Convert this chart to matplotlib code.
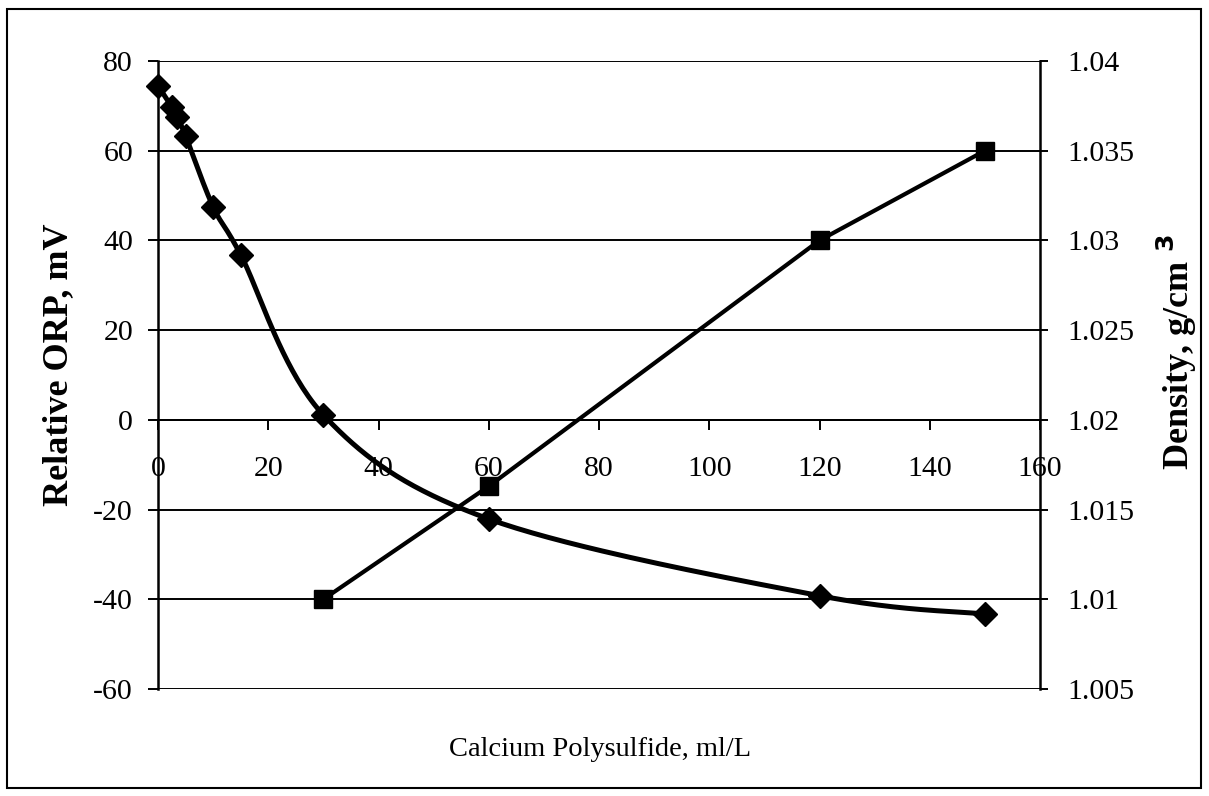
import matplotlib.pyplot as plt
import numpy as np
from matplotlib.patches import Rectangle

plt.rcParams["font.family"] = ["Liberation Serif", "DejaVu Serif"]

# data
orp_dose = [0, 2.5, 3.5, 5, 10, 15, 30, 60, 120, 150]
orp_mv = [74.5, 69.8, 67.5, 63.3, 47.5, 36.8, 1.1, -22.1, -39.2, -43.3]
density_dose = [30, 60, 120, 150]
density = [1.010, 1.0163, 1.030, 1.035]

x_ticks = [0, 20, 40, 60, 80, 100, 120, 140, 160]
orp_ticks = [-60, -40, -20, 0, 20, 40, 60, 80]
density_ticks = [1.005, 1.01, 1.015, 1.02, 1.025, 1.03, 1.035, 1.04]
density_labels = ["1.005", "1.01", "1.015", "1.02", "1.025", "1.03", "1.035", "1.04"]

W, H = 1209, 796


def smooth_line(xs, ys, sx, sy, n=40):
    # Excel-like smoothed line: cubic Bezier segments with Catmull-Rom control points,
    # computed in screen-scaled coordinates
    p = np.column_stack([np.asarray(xs) * sx, np.asarray(ys) * sy])
    p = np.vstack([p[0], p, p[-1]])
    t = np.linspace(0, 1, n)[:, None]
    out = []
    for i in range(1, len(p) - 2):
        p0, p1, p2, p3 = p[i - 1], p[i], p[i + 1], p[i + 2]
        c1 = p1 + (p2 - p0) / 6
        c2 = p2 - (p3 - p1) / 6
        seg = (1 - t) ** 3 * p1 + 3 * (1 - t) ** 2 * t * c1 + 3 * (1 - t) * t ** 2 * c2 + t ** 3 * p2
        out.append(seg)
    out = np.vstack(out)
    return out[:, 0] / sx, out[:, 1] / sy


fig = plt.figure(figsize=(W / 100, H / 100), dpi=100)
ax = fig.add_axes([158 / W, 1 - 689 / H, (1040 - 158) / W, (689 - 61) / H])
ax2 = ax.twinx()

ax.set_xlim(0, 160)
ax.set_ylim(-60, 80)
ax2.set_ylim(1.005, 1.04)

ax.set_yticks(orp_ticks)
ax.set_yticklabels([str(v) for v in orp_ticks])
ax.set_xticks(x_ticks)
ax2.set_yticks(density_ticks)
ax2.set_yticklabels(density_labels)

ax.grid(True, axis="y", color="black", linewidth=1.4)
ax.set_axisbelow(True)

for s in ["top", "right"]:
    ax.spines[s].set_visible(False)
for s in ["top", "left", "bottom"]:
    ax2.spines[s].set_visible(False)
ax.spines["bottom"].set_position(("data", 0))
ax.spines["bottom"].set_linewidth(1.4)
ax.spines["left"].set_linewidth(1.8)
ax2.spines["right"].set_linewidth(1.8)

ax.tick_params(axis="y", direction="out", length=7, width=1.4, pad=11, labelsize=21.5)
ax.tick_params(axis="x", direction="out", length=7, width=1.4, pad=19, labelsize=21.5)
ax2.tick_params(axis="y", direction="out", length=6, width=1.4, pad=14, labelsize=21.5)

sx = 882 / 160
sy = 628 / 140
cx, cy = smooth_line(orp_dose, orp_mv, sx, sy)
ax.plot(cx, cy, color="black", linewidth=3.6, solid_capstyle="round", zorder=3, clip_on=False)
ax.plot(orp_dose, orp_mv, linestyle="none", marker="D", markersize=12, color="black", zorder=4, clip_on=False)

ax2.plot(density_dose, density, color="black", linewidth=3, marker="s", markersize=13, zorder=4)

fig.text(600 / W, 1 - 750 / H, "Calcium Polysulfide, ml/L", fontsize=20.5, ha="center", va="center")
fig.text(59 / W, 1 - 365 / H, "Relative ORP, mV", fontsize=26, fontweight="bold",
         rotation=90, ha="center", va="center")
fig.text(1177 / W, 1 - 352 / H, "Density, g/cm $^{\\mathbf{3}}$", fontsize=26, fontweight="bold",
         rotation=90, ha="center", va="center")

fig.patches.append(Rectangle((7 / W, 1 - 788 / H), (1201 - 7) / W, (788 - 9) / H,
                             transform=fig.transFigure, fill=False, edgecolor="black", linewidth=1.5))

fig.savefig("out.png", dpi=100)
